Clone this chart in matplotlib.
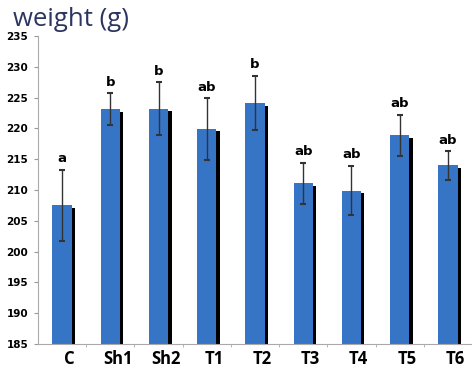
import numpy as np
import matplotlib
matplotlib.use("Agg")
import matplotlib.pyplot as plt

# data
groups = ["C", "Sh1", "Sh2", "T1", "T2", "T3", "T4", "T5", "T6"]
means = [207.5, 223.1, 223.2, 219.9, 224.1, 211.1, 209.9, 218.9, 214.0]
errs = [5.8, 2.6, 4.3, 5.0, 4.4, 3.3, 4.0, 3.3, 2.3]
letters = ["a", "b", "b", "ab", "b", "ab", "ab", "ab", "ab"]

fig = plt.figure(figsize=(4.72, 3.75), dpi=100)
ax = fig.add_axes([38/472, 1 - 344/375, 1 - 38/472, (344 - 36)/375])

x = np.arange(len(groups))
w = 0.4
base = 185

# shadow behind each bar
ax.bar(x + 0.07, np.array(means) - base - 0.4, w, bottom=base,
       color="black", zorder=1)
ax.bar(x, np.array(means) - base, w, bottom=base, color="#3674c6", zorder=2)
ax.errorbar(x, means, yerr=errs, fmt="none", ecolor="#333333",
            elinewidth=1, capsize=2.5, capthick=1.5, zorder=3)

for xi, m, e, l in zip(x, means, errs, letters):
    ax.text(xi, m + e + 1.8, l, ha="center", va="center", fontsize=9.5,
            fontweight="heavy", family="DejaVu Sans Condensed", zorder=4)

ax.set_xlim(-0.5, 8.5)
ax.set_ylim(185, 235)
ax.set_yticks(range(185, 236, 5))
ax.tick_params(axis="y", labelsize=7.5, length=3, color="#999999", pad=4)
for t in ax.get_yticklabels():
    t.set_fontweight("bold")
    t.set_family("DejaVu Sans Condensed")

ax.set_xticks(x + 0.15)
ax.set_xticklabels(groups, fontsize=12, fontweight="bold", family="Open Sans")
ax.tick_params(axis="x", length=0, pad=4)
ax.set_xticks(x[:-1] + 0.5, minor=True)
ax.tick_params(axis="x", which="minor", length=2, color="#aaaaaa")

for s in ["top", "right"]:
    ax.spines[s].set_visible(False)
ax.spines["left"].set_color("#aaaaaa")
ax.spines["bottom"].set_color("#aaaaaa")

fig.text(13/472, 1 - 19/375, "weight (g)", fontsize=18.5, color="#2b3560",
         family="Open Sans", va="center", ha="left")

fig.savefig("out.png", dpi=100)
